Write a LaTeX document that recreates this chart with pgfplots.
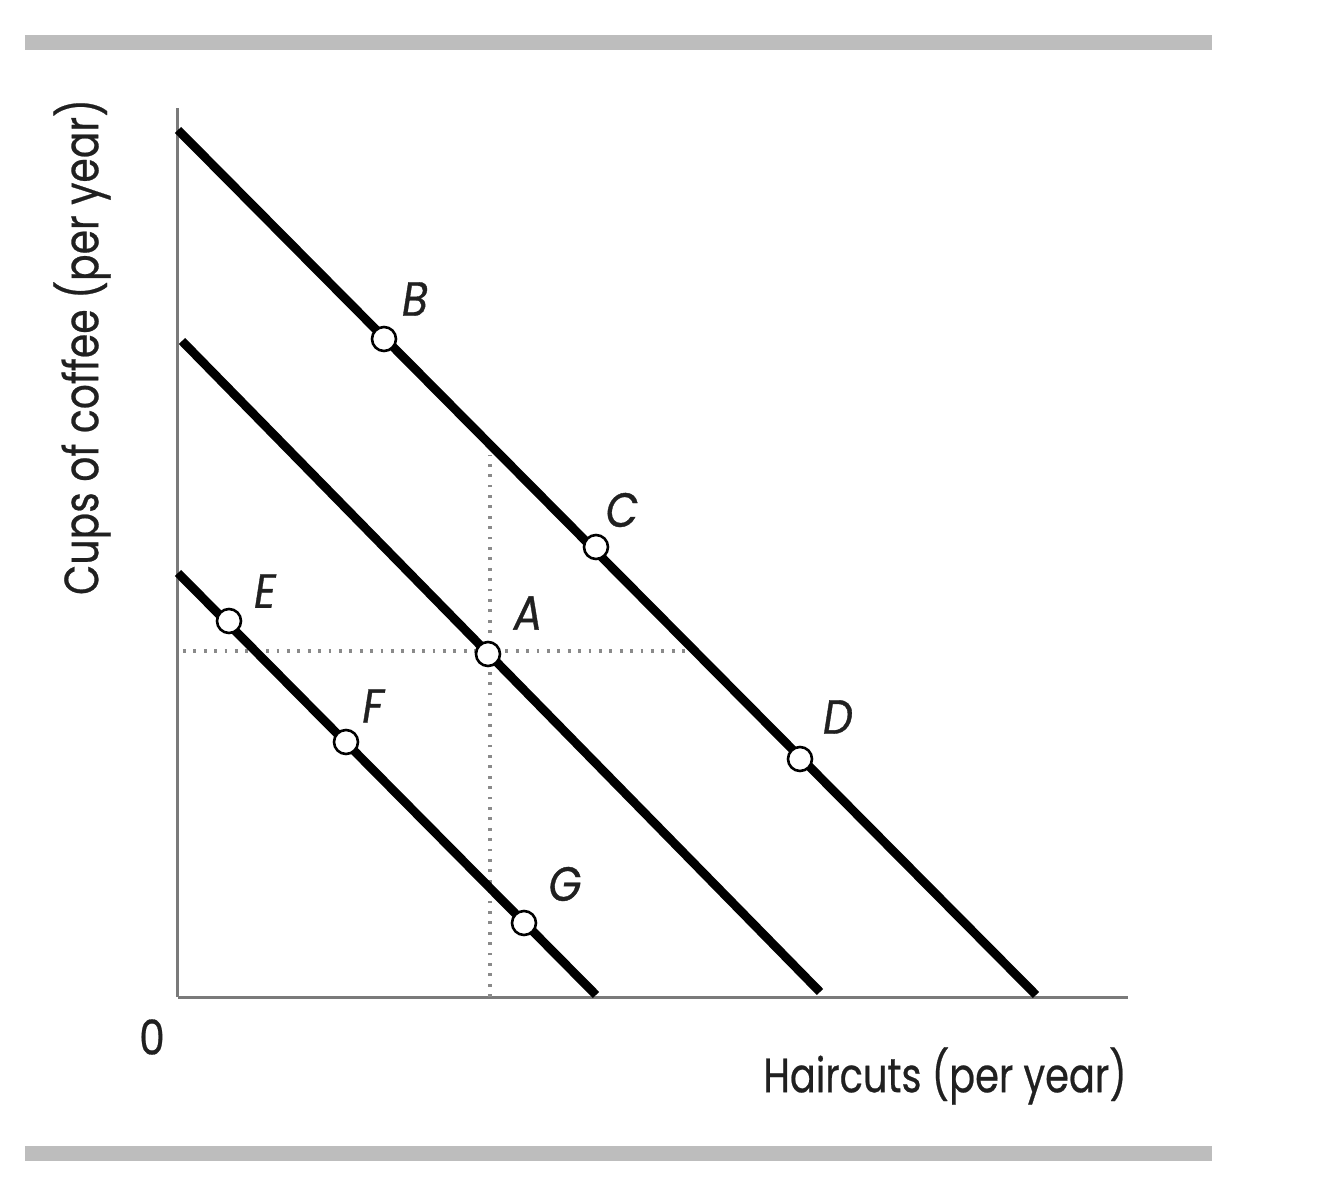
\documentclass[border=0pt]{standalone}
\usepackage{pgfplots}
\pgfplotsset{compat=1.18}
\usepackage{fontspec}
\setmainfont[FakeBold=0.6]{Poppins}
\newfontfamily\lblfont[FakeBold=0.8]{Poppins}
\definecolor{bargray}{HTML}{BDBDBD}
\definecolor{axgray}{HTML}{7A7A7A}
\definecolor{dotgray}{HTML}{8A8A8A}
\definecolor{txtgray}{HTML}{202020}
\begin{document}
\begin{tikzpicture}
\path[use as bounding box] (-89pt,-101.5pt) rectangle (576pt,498.5pt);
\begin{axis}[
  x=0.5pt, y=0.5pt,
  xmin=0, xmax=950, ymin=0, ymax=889,
  enlargelimits=false,
  axis lines=left,
  axis line style={-, draw=axgray, line width=1.5pt},
  xtick=\empty, ytick=\empty,
  clip=false,
]
% gray rules
\draw[bargray, line width=7.5pt] (axis cs:-153,954) -- (axis cs:1034,954);
\draw[bargray, line width=7.5pt] (axis cs:-153,-156) -- (axis cs:1034,-156);
% dotted guides
\addplot[dotgray, line width=1.6pt, dash pattern=on 1.4pt off 3.8pt] coordinates {(5,346) (512,346)};
\addplot[dotgray, line width=1.6pt, dash pattern=on 1.4pt off 3.8pt] coordinates {(312,0) (312,542)};
% lines
\addplot[black, line width=4.4pt] coordinates {(0,867) (858,2)};
\addplot[black, line width=4.4pt] coordinates {(4,656) (642,5)};
\addplot[black, line width=4.4pt] coordinates {(0,424) (418,2)};
% points
\addplot[only marks, mark=*, mark size=6pt, mark options={fill=white, draw=black, line width=1.3pt}]
  coordinates {(206,658) (418,450) (622,238) (310,343) (51,376) (168,255) (346,74)};
% point labels
\begin{scope}[every node/.style={text=txtgray, xscale=0.88, font=\lblfont\fontsize{24}{28}\selectfont\itshape}]
\node at (axis cs:237,698) {B};
\node at (axis cs:444,487) {C};
\node at (axis cs:660,280) {D};
\node at (axis cs:350,384) {A};
\node at (axis cs:87,406) {E};
\node at (axis cs:195,291) {F};
\node at (axis cs:387,113) {G};
\end{scope}
% axis labels
\node[text=txtgray, font=\fontsize{24}{28}\selectfont, rotate=90, xscale=0.82] at (axis cs:-96,650) {Cups of coffee (per year)};
\node[text=txtgray, font=\fontsize{24}{28}\selectfont, xscale=0.8] at (axis cs:767,-79) {Haircuts (per year)};
\node[text=txtgray, font=\fontsize{24}{28}\selectfont, xscale=0.85] at (axis cs:-26,-40) {0};
\end{axis}
\end{tikzpicture}
\end{document}
